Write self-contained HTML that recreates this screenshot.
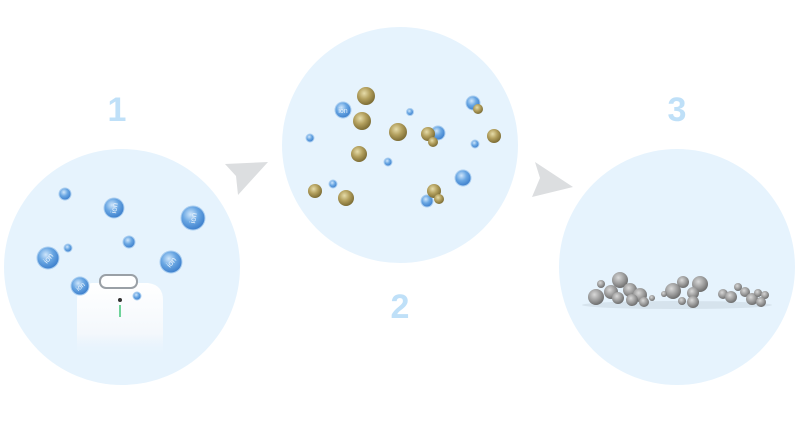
<!DOCTYPE html>
<html><head><style>html,body{margin:0;padding:0;background:#fff;width:800px;height:427px;overflow:hidden}</style></head>
<body>
<svg width="800" height="427" viewBox="0 0 800 427" xmlns="http://www.w3.org/2000/svg">
<defs>
<radialGradient id="b" cx="0.4" cy="0.35" r="0.65"><stop offset="0" stop-color="#cfe6fb"/><stop offset="0.5" stop-color="#6aa7e3"/><stop offset="1" stop-color="#3d7fcc"/></radialGradient>
<radialGradient id="g" cx="0.4" cy="0.35" r="0.65"><stop offset="0" stop-color="#e6dcaa"/><stop offset="0.5" stop-color="#b3a05e"/><stop offset="1" stop-color="#7d6d35"/></radialGradient>
<radialGradient id="s" cx="0.4" cy="0.35" r="0.65"><stop offset="0" stop-color="#d8d8d8"/><stop offset="0.6" stop-color="#9a9a9a"/><stop offset="1" stop-color="#6e6e6e"/></radialGradient>
<linearGradient id="dev" x1="0" y1="0" x2="0" y2="1"><stop offset="0" stop-color="#fff"/><stop offset="0.7" stop-color="#f4f8fc"/><stop offset="1" stop-color="#eaf4fd" stop-opacity="0"/></linearGradient>
</defs>
<g fill="#e6f3fd">
<circle cx="122" cy="267" r="118"/><circle cx="400" cy="145" r="118"/><circle cx="677" cy="267" r="118"/>
</g>
<g font-family="Liberation Sans, sans-serif" font-weight="bold" font-size="34" fill="#bfe0f8" text-anchor="middle">
<text x="117" y="121">1</text><text x="400" y="318">2</text><text x="677" y="121">3</text>
</g>
<polygon points="225,164 268,162 238,195 236,176" fill="#dcdee0"/>
<polygon points="535,162 573,187 532,197 540,178" fill="#dcdee0"/>
<!-- device -->
<path d="M77,300 Q77,285 92,283 L148,283 Q163,285 163,300 L163,355 L77,355 Z" fill="url(#dev)"/>
<rect x="100" y="275" width="37" height="13" rx="6" fill="#fff" stroke="#9aa0a6" stroke-width="2"/>
<circle cx="120" cy="300" r="2" fill="#333"/>
<rect x="119" y="305" width="2" height="12" fill="#6fd39a"/>
<g fill="url(#b)" stroke="#a9cdf0" stroke-width="1">
<circle cx="65" cy="194" r="6"/><circle cx="114" cy="208" r="10"/><circle cx="193" cy="218" r="12"/><circle cx="129" cy="242" r="6"/><circle cx="68" cy="248" r="4"/><circle cx="48" cy="258" r="11"/><circle cx="171" cy="262" r="11"/><circle cx="80" cy="286" r="9"/><circle cx="137" cy="296" r="4"/>
<circle cx="343" cy="110" r="8"/><circle cx="410" cy="112" r="3.5"/><circle cx="310" cy="138" r="4"/><circle cx="438" cy="133" r="7"/><circle cx="473" cy="103" r="7"/><circle cx="475" cy="144" r="4"/><circle cx="388" cy="162" r="4"/><circle cx="333" cy="184" r="4"/><circle cx="463" cy="178" r="8"/><circle cx="427" cy="201" r="6"/>
</g>
<g font-family="Liberation Sans, sans-serif" font-size="8" fill="#e8f2fc" text-anchor="middle">
<text x="114" y="211" transform="rotate(-80 114 208)">ion</text>
<text x="193" y="221" transform="rotate(-80 193 218)">ion</text>
<text x="48" y="261" transform="rotate(-50 48 258)">ion</text>
<text x="171" y="265" transform="rotate(-50 171 262)">ion</text>
<text x="80" y="289" font-size="7" transform="rotate(-40 80 286)">ion</text>
<text x="343" y="113" font-size="7">ion</text>
</g>
<g fill="url(#g)">
<circle cx="366" cy="96" r="9"/><circle cx="362" cy="121" r="9"/><circle cx="398" cy="132" r="9"/><circle cx="359" cy="154" r="8"/><circle cx="315" cy="191" r="7"/><circle cx="346" cy="198" r="8"/><circle cx="428" cy="134" r="7"/><circle cx="433" cy="142" r="5"/><circle cx="478" cy="109" r="5"/><circle cx="494" cy="136" r="7"/><circle cx="434" cy="191" r="7"/><circle cx="439" cy="199" r="5"/>
</g>
<ellipse cx="677" cy="305" rx="95" ry="4" fill="#cfdbe6" opacity="0.7"/>
<g fill="url(#s)">
<circle cx="596" cy="297" r="8"/><circle cx="601" cy="284" r="4"/><circle cx="611" cy="292" r="7"/><circle cx="620" cy="280" r="8"/><circle cx="630" cy="290" r="7"/><circle cx="640" cy="295" r="7"/><circle cx="618" cy="298" r="6"/><circle cx="644" cy="302" r="5"/><circle cx="632" cy="300" r="6"/><circle cx="652" cy="298" r="3"/>
<circle cx="673" cy="291" r="8"/><circle cx="683" cy="282" r="6"/><circle cx="700" cy="284" r="8"/><circle cx="693" cy="293" r="6"/><circle cx="693" cy="302" r="6"/><circle cx="664" cy="294" r="3"/><circle cx="682" cy="301" r="4"/>
<circle cx="723" cy="294" r="5"/><circle cx="731" cy="297" r="6"/><circle cx="738" cy="287" r="4"/><circle cx="745" cy="292" r="5"/><circle cx="752" cy="299" r="6"/><circle cx="758" cy="293" r="4"/><circle cx="765" cy="295" r="4"/><circle cx="761" cy="302" r="5"/>
</g>
</svg>
</body></html>
